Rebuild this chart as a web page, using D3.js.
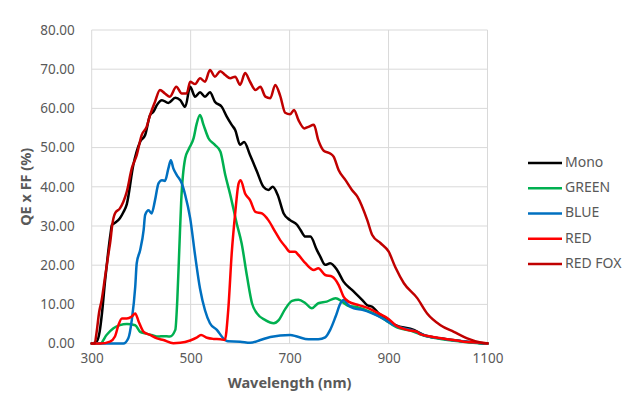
<!DOCTYPE html>
<html><head><meta charset="utf-8">
<script src="https://cdn.jsdelivr.net/npm/d3@7"></script>
<style>body{margin:0;background:#fff}svg{display:block}</style>
</head><body><div id="chart"></div>
<script>
const xTicks = [300, 500, 700, 900, 1100];
const yTicks = [0, 10, 20, 30, 40, 50, 60, 70, 80];
const seriesNames = ["Mono", "GREEN", "BLUE", "RED", "RED FOX"];
const seriesColors = ["#000000", "#00B050", "#0070C0", "#FF0000", "#C00000"];

const mono = [[300,0],[310,0.5],[316,3],[321,8],[327,16],[333,23],[338,28],[341,30.3],[347,30.8],[357,32],[364,33.5],[371,35.6],[384,45.5],[398,51.5],[408,53.2],[418,58.3],[425,59.2],[432,60.9],[442,62.1],[455,61.4],[469,62.7],[479,62.1],[489,60.4],[499,65.5],[509,63],[519,64.1],[529,63],[539,64.1],[549,61.7],[563,60.4],[573,57.9],[583,55.8],[590,54.5],[600,50.7],[608,51.4],[620,48.1],[634,43.9],[647,40],[657,39.2],[666,40],[676,37.9],[688,33.2],[701,31.5],[715,30.3],[722,29],[732,27.3],[742,27.3],[755,23.9],[762,22.2],[772,20.1],[782,20.5],[796,18.8],[809,15.8],[826,13.7],[847,11.1],[857,9.8],[867,9.4],[880,7.7],[894,6.5],[914,4.7],[951,3.5],[971,2.2],[1005,1.35],[1045,0.66],[1086,0.1],[1100,0]];
const green = [[300,0],[317,0],[330,2.2],[344,3.9],[357,4.7],[371,5],[388,4.7],[398,3],[408,2.6],[421,2.2],[435,1.8],[445,1.9],[458,1.8],[469,3.5],[473,11.1],[477,23.9],[481,36.6],[489,47.3],[496,49.6],[506,52.4],[512,56],[519,58.3],[526,55.8],[536,52.4],[549,50.7],[560,49],[570,43],[580,38],[593,30.7],[603,25.6],[614,17.1],[624,10.3],[634,7.7],[651,6],[668,5.2],[678,6],[691,8.8],[705,10.9],[718,11.2],[732,10.3],[745,9],[758,10.3],[775,10.7],[793,11.6],[806,10.7],[819,9.6],[837,9.3],[853,8.6],[873,7.5],[894,6],[914,4.3],[950,3.1],[970,2.1],[1000,1.3],[1050,0.5],[1100,0]];
const blue = [[300,0],[364,0],[374,1.35],[381,6],[388,14.5],[391,20.5],[398,23.9],[405,29],[408,32.8],[415,34],[421,33.2],[428,36.6],[435,40.9],[442,41.7],[448,41.5],[455,44.7],[460,46.8],[465,44.7],[472,43],[482,40.9],[489,37.9],[499,32],[509,22.5],[519,14],[529,8.5],[539,5.2],[553,3.5],[566,1.35],[575,0.6],[600,0.5],[620,0.2],[641,0.9],[661,1.7],[701,2.2],[715,1.8],[738,1.1],[758,1.1],[772,1.6],[782,3.5],[793,6.9],[803,10.3],[809,11.1],[819,9.8],[830,9],[847,8.6],[867,7.7],[887,6.5],[914,4.5],[950,3.3],[970,2.2],[1000,1.4],[1050,0.6],[1100,0]];
const red = [[300,0],[317,0],[337,0.5],[347,1.8],[354,4.7],[361,6.4],[371,6.4],[381,6.9],[388,7.7],[395,5.6],[405,3],[418,2.2],[432,1.35],[445,0.9],[465,0.1],[479,0.2],[499,0.8],[512,1.5],[521,2.2],[533,1.5],[546,1.2],[560,1.1],[569,0.9],[576,8.6],[583,23],[590,33.2],[597,40.9],[601,41.7],[610,38.3],[620,36.6],[631,33.6],[644,33.2],[657,31.5],[671,28.5],[681,26.4],[691,24.8],[701,23.4],[711,23.4],[718,22.6],[732,20.5],[749,18.8],[758,19.2],[772,17.5],[786,17.1],[799,15],[809,12],[819,10.7],[840,9.8],[860,9],[880,7.7],[900,6.3],[914,4.7],[938,3.5],[958,3],[964,2.4],[985,1.8],[1019,1.1],[1052,0.5],[1086,0.2],[1100,0]];
const redFox = [[300,0],[306,0],[310,3],[315,8],[320,11],[327,17],[334,23],[338,26.4],[341,29.8],[347,33.2],[357,34.5],[364,36.2],[371,38.8],[381,44.7],[391,48.1],[401,53.2],[411,55.3],[418,58.3],[428,61.7],[438,64.7],[448,63.8],[458,63],[471,65.5],[482,63.8],[492,63.8],[499,66.8],[509,66.2],[519,67.7],[529,66.8],[539,69.8],[549,68.1],[560,69.5],[570,68.5],[580,67.7],[590,68.1],[600,66],[610,69],[620,66.8],[631,64.7],[641,65.5],[651,63],[661,62.6],[671,66],[681,63.2],[691,58.9],[701,58.5],[709,59.6],[718,57],[730,54.9],[738,55.3],[749,55.8],[758,51.9],[769,49.2],[782,48.5],[789,47.7],[799,44.3],[813,41.7],[826,39.2],[837,37.5],[857,31.5],[867,27.7],[884,25.6],[900,23.5],[914,19.4],[931,15.4],[958,11.6],[978,7.7],[1005,4.7],[1032,3],[1059,1.35],[1086,0.3],[1100,0.1]];
const seriesData = [mono, green, blue, red, redFox];

const W = 633, H = 398;
const svg = d3.select("#chart").append("svg").attr("width", W).attr("height", H);
const x = d3.scaleLinear().domain([300, 1100]).range([91.7, 487.5]);
const y = d3.scaleLinear().domain([0, 80]).range([343.6, 30]);
const font = "'Noto Sans', 'Open Sans', sans-serif";

// gridlines
svg.append("g").selectAll("line").data(yTicks).join("line")
  .attr("x1", x(300)).attr("x2", x(1100)).attr("y1", d => y(d)).attr("y2", d => y(d))
  .attr("stroke", "#d9d9d9").attr("stroke-width", 1);
svg.append("g").selectAll("line").data(xTicks).join("line")
  .attr("y1", y(0)).attr("y2", y(80)).attr("x1", d => x(d)).attr("x2", d => x(d))
  .attr("stroke", "#d9d9d9").attr("stroke-width", 1);

// axes via d3 axis generators (labels only)
const yAxis = svg.append("g").attr("transform", `translate(${x(300)},0)`)
  .call(d3.axisLeft(y).tickValues(yTicks).tickFormat(d3.format(".2f")).tickSize(0).tickPadding(17));
const xAxis = svg.append("g").attr("transform", `translate(0,${y(0)})`)
  .call(d3.axisBottom(x).tickValues(xTicks).tickFormat(d3.format("d")).tickSize(0).tickPadding(10));
[yAxis, xAxis].forEach(a => {
  a.select(".domain").remove();
  a.selectAll("text").attr("fill", "#595959").attr("font-size", 13.5).attr("font-family", font);
});

// lines
const line = d3.line().x(d => x(d[0])).y(d => y(d[1])).curve(d3.curveMonotoneX);
svg.append("g").selectAll("path").data(seriesData).join("path")
  .attr("d", line).attr("fill", "none")
  .attr("stroke", (d, i) => seriesColors[i]).attr("stroke-width", 2.5)
  .attr("stroke-linejoin", "round").attr("stroke-linecap", "round");

// axis titles
svg.append("text").attr("x", x(700)).attr("y", 388).attr("text-anchor", "middle")
  .attr("font-family", font).attr("font-weight", "bold").attr("font-size", 14.5).attr("fill", "#595959")
  .text("Wavelength (nm)");
svg.append("text").attr("transform", `translate(27,${y(40)}) rotate(-90)`).attr("text-anchor", "middle")
  .attr("dominant-baseline", "middle")
  .attr("font-family", font).attr("font-weight", "bold").attr("font-size", 14.5).attr("fill", "#595959")
  .text("QE x FF (%)");

// legend
const legendY = d3.scalePoint().domain(seriesNames).range([163, 264]);
const lg = svg.append("g").selectAll("g").data(seriesNames).join("g")
  .attr("transform", d => `translate(528,${legendY(d)})`);
lg.append("line").attr("x1", 0).attr("x2", 34).attr("y1", 0).attr("y2", 0)
  .attr("stroke", (d, i) => seriesColors[i]).attr("stroke-width", 2.5);
lg.append("text").attr("x", 37).attr("y", 0).attr("dominant-baseline", "middle")
  .attr("font-family", font).attr("font-size", 14).attr("fill", "#595959").text(d => d);
</script>
</body></html>
